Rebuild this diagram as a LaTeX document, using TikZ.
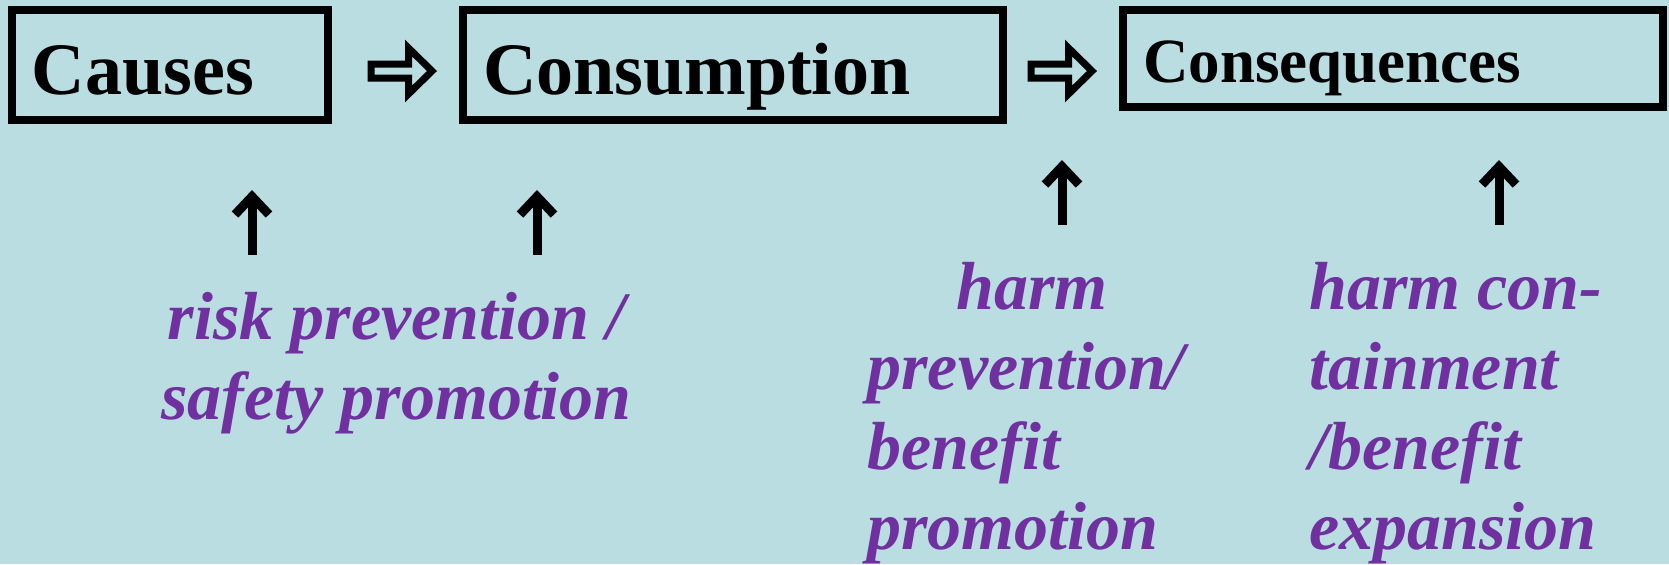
\documentclass[tikz,border=0pt]{standalone}
\usepackage{fontspec}
\setmainfont{Liberation Serif}
\usetikzlibrary{arrows.meta, positioning, calc}
\definecolor{hpblue}{HTML}{B9DDE1}
\definecolor{hppurple}{HTML}{7030A0}

\begin{document}
\begin{tikzpicture}[
  x=0.5pt, y=-0.5pt,
  stage/.style={rectangle, draw=black, line width=4pt, inner xsep=10pt, inner ysep=0pt,
    align=left, text depth=0pt, font=\bfseries\fontsize{37}{44}\selectfont},
  remedy/.style={inner sep=0pt, text=hppurple, font=\bfseries\itshape\fontsize{34}{40}\selectfont},
  flowarrow/.style={draw=black, line width=3.5pt, line join=miter},
  uparrow/.style={line width=4.5pt, -{Straight Barb[length=9pt, width=17pt]}},
]
% background and bounding box
\fill[hpblue] (0,0) rectangle (1669,564);

% stages
\node[stage, minimum width=158pt, minimum height=55pt, text width=138pt, text height=29pt] (causes) at (170,65) {Causes};
\node[stage, minimum width=270pt, minimum height=55pt, text width=250pt, text height=29pt] (consumption) at (733,65) {Consumption};
\node[stage, minimum width=270pt, minimum height=48.5pt, text width=250pt, text height=23.5pt,
  font=\bfseries\fontsize{31.5}{38}\selectfont] (consequences) at (1393,58.5) {Consequences};

% hollow arrows between stages
\coordinate (flow1) at (402,71);
\coordinate (flow2) at (1062,71);
\draw[flowarrow] (flow1) ++(-31,-7) -- ++(37.5,0) -- ++(0,-16) -- ++(23.5,23) -- ++(-23.5,23) -- ++(0,-16) -- ++(-37.5,0) -- cycle;
\draw[flowarrow] (flow2) ++(-31,-7) -- ++(37.5,0) -- ++(0,-16) -- ++(23.5,23) -- ++(-23.5,23) -- ++(0,-16) -- ++(-37.5,0) -- cycle;

% interventions
\node[remedy, anchor=north, align=center] (riskprev) at (396.5,283) {\strut risk prevention /\\safety promotion};
\node[remedy, anchor=north west, align=left] (harmprev) at (867,253) {\hspace*{44.5pt}\strut harm\\prevention/\\benefit\\promotion};
\node[remedy, anchor=north west, align=left] (harmcont) at (1309,253) {\strut harm con-\\tainment\\/benefit\\expansion};

% up arrows
\coordinate (up1) at (252,255);
\coordinate (up2) at (537,255);
\coordinate (up3) at (1062,225);
\coordinate (up4) at (1499,225);
\foreach \u in {up1, up2, up3, up4}
  \draw[uparrow] (\u) -- ++(0,-65);
\end{tikzpicture}
\end{document}
